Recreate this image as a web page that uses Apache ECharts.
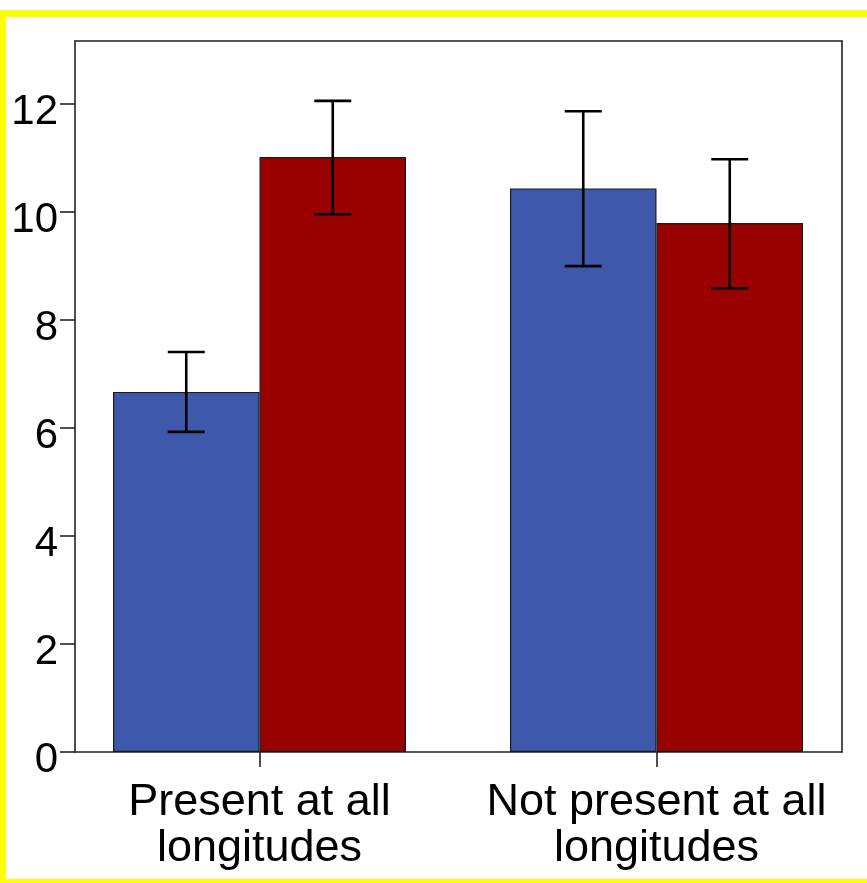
<!DOCTYPE html>
<html>
<head>
<meta charset="utf-8">
<script src="https://cdn.jsdelivr.net/npm/echarts@6/dist/echarts.min.js"></script>
<style>
html,body{margin:0;padding:0;background:#fff;}
#chart{width:867px;height:883px;}
</style>
</head>
<body>
<div id="chart"></div>
<script>
// ---- data ----
const categories = ['Present at all\nlongitudes', 'Not present at all\nlongitudes'];
const blueValues = [6.67, 10.44];
const redValues = [11.02, 9.80];
const blueLower = [5.93, 9.00];
const blueUpper = [7.41, 11.87];
const redLower = [9.96, 8.59];
const redUpper = [12.06, 10.98];
const yTicks = [0, 2, 4, 6, 8, 10, 12];
const yMax = 13.17;

// ---- chart ----
const chart = echarts.init(document.getElementById('chart'), null, {renderer: 'canvas'});
const FONT = 'Liberation Sans';
const BAR_FRAC = 0.369;

function errorSeries(name, lower, upper, side) {
  return {
    name: name,
    type: 'custom',
    xAxisIndex: 2,
    yAxisIndex: 2,
    z: 10,
    data: lower.map((l, i) => [i, l, upper[i]]),
    renderItem: function (params, api) {
      const idx = api.value(0);
      const lo = api.coord([idx, api.value(1)]);
      const hi = api.coord([idx, api.value(2)]);
      const band = api.size([1, 0])[0];
      const x = lo[0] + side * band * BAR_FRAC / 2;
      const cap = 18.5;
      const style = {stroke: '#000', lineWidth: 2.6};
      return {
        type: 'group',
        children: [
          {type: 'line', shape: {x1: x, y1: lo[1], x2: x, y2: hi[1]}, style: style},
          {type: 'line', shape: {x1: x - cap, y1: lo[1], x2: x + cap, y2: lo[1]}, style: style},
          {type: 'line', shape: {x1: x - cap, y1: hi[1], x2: x + cap, y2: hi[1]}, style: style}
        ]
      };
    }
  };
}

const frameLine = {show: true, onZero: false, lineStyle: {color: '#222', width: 1.6}};

const option = {
  animation: false,
  backgroundColor: '#ffffff',
  graphic: [
    {type: 'rect', shape: {x: 0, y: 10, width: 867, height: 7}, style: {fill: '#ffff00'}, z: 100},
    {type: 'rect', shape: {x: 0, y: 10, width: 6, height: 873}, style: {fill: '#ffff00'}, z: 100},
    {type: 'rect', shape: {x: 0, y: 879, width: 867, height: 4}, style: {fill: '#ffff00'}, z: 100}
  ],
  grid: [
    {left: 75, top: 41, width: 767, height: 711, containLabel: false},
    {left: 61, top: 41, width: 794, height: 711, containLabel: false}
  ],
  xAxis: [
    {gridIndex: 0, type: 'value', position: 'bottom', min: 0, max: 1,
     axisLine: frameLine, axisTick: {show: false}, axisLabel: {show: false}, splitLine: {show: false}},
    {gridIndex: 0, type: 'value', position: 'top', min: 0, max: 1,
     axisLine: frameLine, axisTick: {show: false}, axisLabel: {show: false}, splitLine: {show: false}},
    {gridIndex: 1, type: 'category', data: categories, position: 'bottom',
     axisLine: {show: false},
     axisTick: {show: true, alignWithLabel: true, length: 15, lineStyle: {color: '#222', width: 1.6}},
     axisLabel: {show: true, interval: 0, color: '#000', fontFamily: FONT, fontSize: 45, lineHeight: 46, margin: 28},
     splitLine: {show: false}}
  ],
  yAxis: [
    {gridIndex: 0, type: 'value', position: 'left', min: 0, max: yMax, interval: 2,
     axisLine: frameLine,
     axisTick: {show: true, length: 15, customValues: yTicks, lineStyle: {color: '#222', width: 1.6}},
     axisLabel: {show: true, customValues: yTicks, color: '#000', fontFamily: FONT, fontSize: 42, margin: 17,
                 verticalAlign: 'top', lineHeight: 16},
     splitLine: {show: false}},
    {gridIndex: 0, type: 'value', position: 'right', min: 0, max: yMax,
     axisLine: frameLine, axisTick: {show: false}, axisLabel: {show: false}, splitLine: {show: false}},
    {gridIndex: 1, type: 'value', min: 0, max: yMax, show: false}
  ],
  series: [
    {name: 'blue', type: 'bar', xAxisIndex: 2, yAxisIndex: 2, data: blueValues,
     barWidth: (BAR_FRAC * 100) + '%', barGap: '0%',
     itemStyle: {color: '#3E58AB', borderColor: '#1a1a1a', borderWidth: 1.2}},
    {name: 'red', type: 'bar', xAxisIndex: 2, yAxisIndex: 2, data: redValues,
     barWidth: (BAR_FRAC * 100) + '%', barGap: '0%',
     itemStyle: {color: '#990000', borderColor: '#1a1a1a', borderWidth: 1.2}},
    errorSeries('blueErr', blueLower, blueUpper, -1),
    errorSeries('redErr', redLower, redUpper, 1)
  ]
};
chart.setOption(option);
</script>
</body>
</html>
